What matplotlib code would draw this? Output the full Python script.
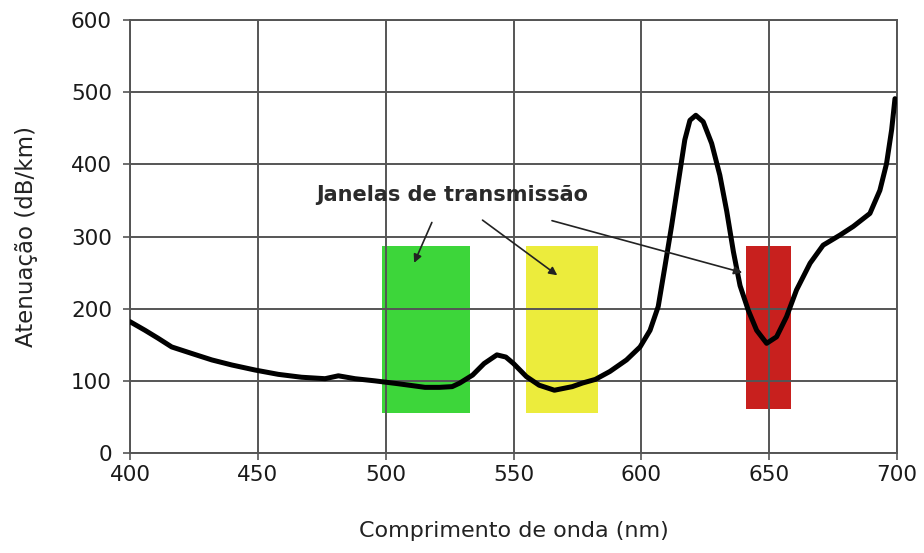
import matplotlib.pyplot as plt
import numpy as np

# DADOS

comprimento = [400, 405.9, 411, 416.3, 424.1, 432, 439.8, 448.9, 458, 467.1,
               476.3, 481.5, 488, 495.8, 504.9, 515.4, 521, 526, 529, 534,
               538.5, 543.5, 547, 550, 555, 560, 566, 573, 577, 582,
               587.7, 594.2, 599.5, 603.4, 606.6, 609.2, 611.8, 614.4, 617, 619,
               621.3, 624.2, 627.5, 630.7, 633.4, 636, 638.6, 641.8, 645.1, 649,
               652.9, 656.8, 660.7, 666, 671.1, 677.7, 682.9, 689.4, 693.3, 695.9,
               697.9, 699.2]
atenuacao = [182, 170, 159, 147, 138, 129, 122, 115, 109, 105,
             103, 107, 103, 100, 96, 91, 91, 92, 97, 108,
             124, 136, 133, 124, 106, 94, 87, 92, 97, 102,
             113, 129, 147, 170, 203, 258, 314, 374, 434, 461,
             468, 459, 429, 385, 335, 279, 232, 198, 170, 152,
             161, 189, 226, 263, 288, 302, 314, 332, 364, 401,
             448, 491]

# janelas de transmissão
janela_ini = [498.5, 555, 641]
janela_fim = [533, 583, 658.7]
janela_base = [55, 55, 61]
janela_topo = [287, 287, 287]
janela_cores = ['#3dd63a', '#ecec3c', '#c8201e']

# setas da anotação: origem e destino
seta_orig_x = [518.5, 537, 564]
seta_orig_y = [323, 325, 323]
seta_dest_x = [510.7, 568, 640.5]
seta_dest_y = [260, 244, 249]

x_ticks = [400, 450, 500, 550, 600, 650, 700]
y_ticks = [0, 100, 200, 300, 400, 500, 600]

# GRÁFICO

plt.rcParams['font.family'] = ['DejaVu Sans']

fig = plt.figure(figsize=(9.24, 5.53), dpi=100)
ax = fig.add_axes([0.1407, 0.1808, 0.8301, 0.783])

for x0, x1, y0, y1, cor in zip(janela_ini, janela_fim, janela_base,
                               janela_topo, janela_cores):
    ax.fill_between([x0, x1], y0, y1, color=cor, linewidth=0, zorder=1)

ax.plot(comprimento, atenuacao, color='black', linewidth=3.6,
        solid_capstyle='round', solid_joinstyle='round', zorder=3)

ax.text(526, 357, 'Janelas de transmissão', fontsize=15,
        fontweight='bold', color='#2a2a2a', ha='center', va='center')

for xo, yo, xd, yd in zip(seta_orig_x, seta_orig_y, seta_dest_x, seta_dest_y):
    ax.annotate('', xy=(xd, yd), xytext=(xo, yo),
                arrowprops=dict(arrowstyle='-|>', color='#222222',
                                linewidth=1.2, mutation_scale=12),
                zorder=4)

ax.set_xlim(400, 700)
ax.set_ylim(0, 600)
ax.set_xticks(x_ticks)
ax.set_yticks(y_ticks)

ax.grid(True, color='#555555', linewidth=1.4)
for lado in ['top', 'right', 'left', 'bottom']:
    ax.spines[lado].set_color('#555555')
    ax.spines[lado].set_linewidth(1.4)

ax.tick_params(axis='both', labelsize=15.5, color='#555555',
               length=5, width=1.2, labelcolor='#1a1a1a')
ax.tick_params(axis='y', pad=8)

ax.set_xlabel('Comprimento de onda (nm)', fontsize=16, labelpad=26,
              color='#222222')
ax.set_ylabel('Atenuação (dB/km)', fontsize=16.5, labelpad=24,
              color='#222222')

plt.savefig('out.png', dpi=100)
plt.close()
